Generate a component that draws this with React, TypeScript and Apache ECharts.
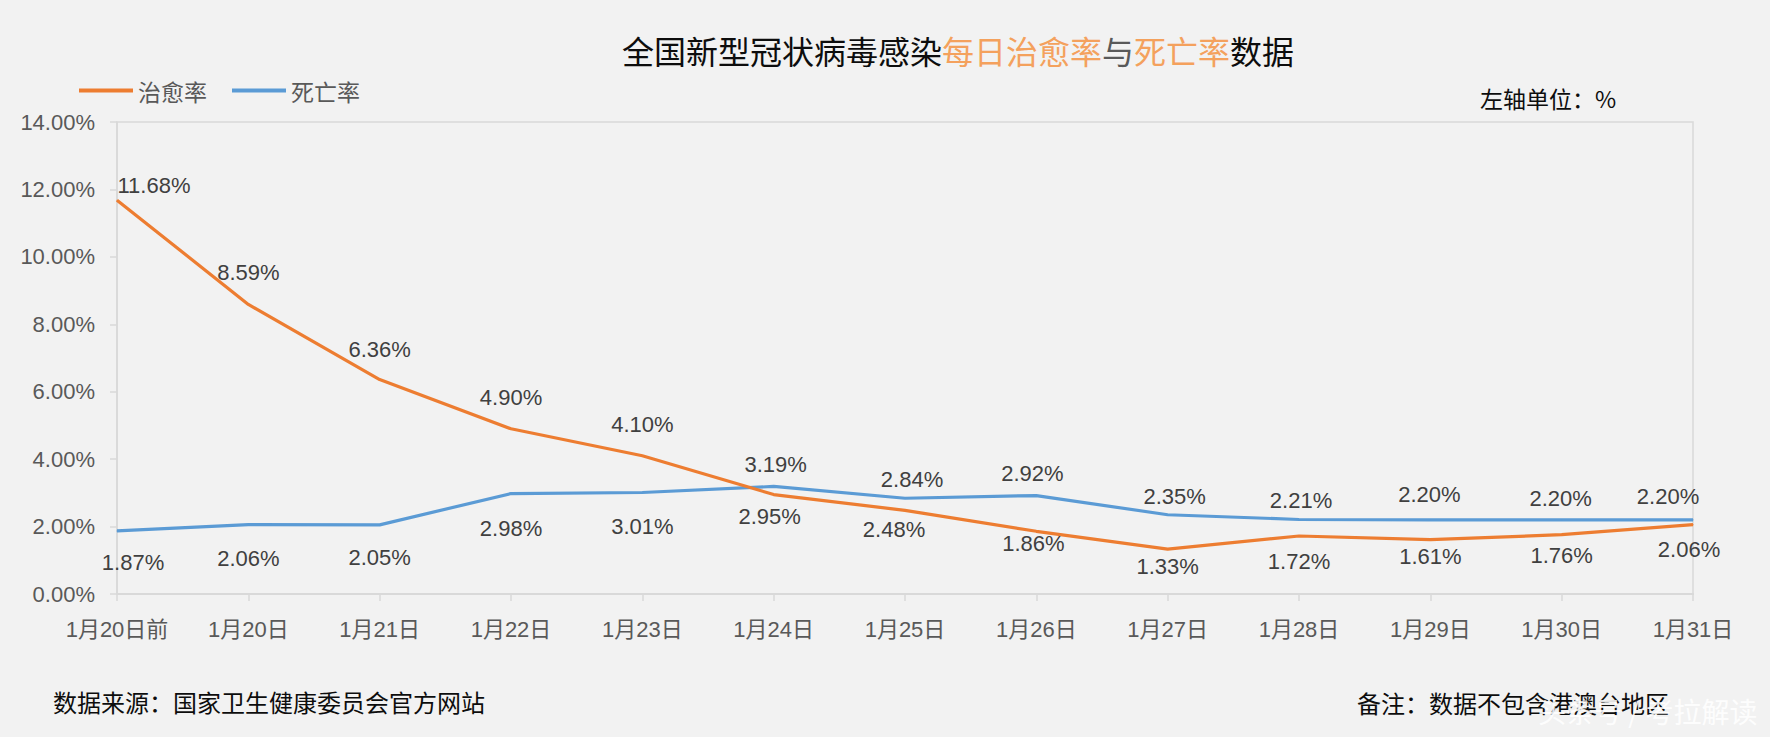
import React, { useEffect, useRef } from "react";
import * as echarts from "echarts";

const categories = [
  "1月20日前", "1月20日", "1月21日", "1月22日", "1月23日", "1月24日", "1月25日",
  "1月26日", "1月27日", "1月28日", "1月29日", "1月30日", "1月31日",
];
const cureRate = [11.68, 8.59, 6.36, 4.9, 4.1, 2.95, 2.48, 1.86, 1.33, 1.72, 1.61, 1.76, 2.06];
const deathRate = [1.87, 2.06, 2.05, 2.98, 3.01, 3.19, 2.84, 2.92, 2.35, 2.21, 2.2, 2.2, 2.2];
const yTicks = [0, 2, 4, 6, 8, 10, 12, 14];

const seriesNames = ["治愈率", "死亡率"];
const titleParts = ["全国新型冠状病毒感染", "每日治愈率", "与", "死亡率", "数据"];
const sourceNote = "数据来源：国家卫生健康委员会官方网站";
const remarkNote = "备注：数据不包含港澳台地区";
const unitNote = "左轴单位：%";
const watermark = "头条号 / 考拉解读";

// label placement styling (offsets from each point, px)
const cureLabelOffset = [
  [37, -15], [0, -31.5], [0, -30.5], [0, -31], [0, -31], [-4, 22], [-11, 19.5],
  [-3, 12], [0, 17.5], [0, 25], [0, 17], [0, 20.5], [-4, 25],
];
const deathLabelOffset = [
  [16, 31.5], [0, 33.5], [0, 33], [0, 35], [0, 34], [2, -21.5], [7, -19],
  [-4, -22], [7, -18.5], [2, -18.5], [-1, -25], [-1, -21.5], [-25, -23.5],
];

const FONT = "'Liberation Sans', Arial, 'Noto Sans CJK SC', sans-serif";
const CJK = "'Noto Sans CJK SC', sans-serif";
const ORANGE = "#ED7D31";
const BLUE = "#5B9BD5";
const GRID_GRAY = "#D9D9D9";
const TEXT_GRAY = "#595959";

export default function App() {
  const ref = useRef<HTMLDivElement>(null);

  useEffect(() => {
    document.body.style.margin = "0";
    if (!ref.current) return;
    const chart = echarts.init(ref.current, null, { renderer: "svg" });

    const mkData = (vals: number[], offs: number[][]) =>
      vals.map((v, i) => ({
        value: v,
        label: { offset: offs[i] },
      }));

    const labelCfg = {
      show: true,
      position: "inside",
      fontSize: 22,
      color: "#404040",
      fontFamily: FONT,
      formatter: (p: any) => Number(p.value).toFixed(2) + "%",
    };

    chart.setOption({
      animation: false,
      backgroundColor: "#F2F2F2",
      title: {
        text:
          `{a|${titleParts[0]}}{b|${titleParts[1]}}{c|${titleParts[2]}}{b|${titleParts[3]}}{a|${titleParts[4]}}`,
        left: 617,
        top: 29,
        textStyle: {
          fontSize: 32,
          fontWeight: "normal",
          fontFamily: CJK,
          rich: {
            a: { fontSize: 32, fontWeight: "normal", color: "#0D0D0D", fontFamily: CJK },
            b: { fontSize: 32, fontWeight: "normal", color: "#F4A15D", fontFamily: CJK },
            c: { fontSize: 32, fontWeight: "normal", color: "#595959", fontFamily: CJK },
          },
        },
      },
      legend: {
        left: 74,
        top: 74,
        itemWidth: 54,
        itemHeight: 4,
        itemGap: 25,
        icon: "rect",
        data: seriesNames,
        textStyle: { fontSize: 23, color: TEXT_GRAY, fontFamily: CJK },
      },
      grid: {
        left: 117,
        right: 77,
        top: 122,
        bottom: 143,
        show: true,
        borderColor: GRID_GRAY,
        borderWidth: 1.5,
        backgroundColor: "transparent",
      },
      xAxis: {
        type: "category",
        data: categories,
        boundaryGap: false,
        axisLine: { lineStyle: { color: GRID_GRAY, width: 2 } },
        axisTick: { show: true, length: 7, lineStyle: { color: GRID_GRAY, width: 1.5 } },
        axisLabel: {
          interval: 0,
          margin: 24,
          fontSize: 22,
          color: TEXT_GRAY,
          fontFamily: FONT,
        },
        splitLine: { show: false },
      },
      yAxis: {
        type: "value",
        min: yTicks[0],
        max: yTicks[yTicks.length - 1],
        interval: yTicks[1] - yTicks[0],
        axisLine: { show: true, lineStyle: { color: GRID_GRAY, width: 1.5 } },
        axisTick: { show: true, length: 7, lineStyle: { color: GRID_GRAY, width: 1.5 } },
        axisLabel: {
          margin: 22,
          fontSize: 22,
          color: TEXT_GRAY,
          fontFamily: FONT,
          formatter: (v: number) => v.toFixed(2) + "%",
        },
        splitLine: { show: false },
      },
      series: [
        {
          name: seriesNames[0],
          type: "line",
          data: mkData(cureRate, cureLabelOffset),
          symbol: "circle",
          symbolSize: 1,
          showSymbol: true,
          itemStyle: { color: ORANGE },
          lineStyle: { color: ORANGE, width: 3.2 },
          label: labelCfg,
          z: 3,
        },
        {
          name: seriesNames[1],
          type: "line",
          data: mkData(deathRate, deathLabelOffset),
          symbol: "circle",
          symbolSize: 1,
          showSymbol: true,
          itemStyle: { color: BLUE },
          lineStyle: { color: BLUE, width: 3.2 },
          label: labelCfg,
          z: 2,
        },
      ],
      graphic: [
        {
          type: "text",
          left: 1480,
          top: 86,
          style: { text: unitNote, fontSize: 23, fill: "#0D0D0D", fontFamily: CJK },
        },
        {
          type: "text",
          left: 53,
          top: 689,
          style: { text: sourceNote, fontSize: 24, fill: "#0D0D0D", fontFamily: CJK },
        },
        {
          type: "text",
          left: 1357,
          top: 690,
          style: { text: remarkNote, fontSize: 24, fill: "#0D0D0D", fontFamily: CJK },
        },
        {
          type: "text",
          left: 1538,
          top: 697,
          z: 100,
          style: { text: watermark, fontSize: 28, fill: "#FFFFFF", opacity: 0.9, fontFamily: CJK },
        },
      ],
    });

    return () => chart.dispose();
  }, []);

  return <div ref={ref} style={{ width: 1770, height: 737 }} />;
}
